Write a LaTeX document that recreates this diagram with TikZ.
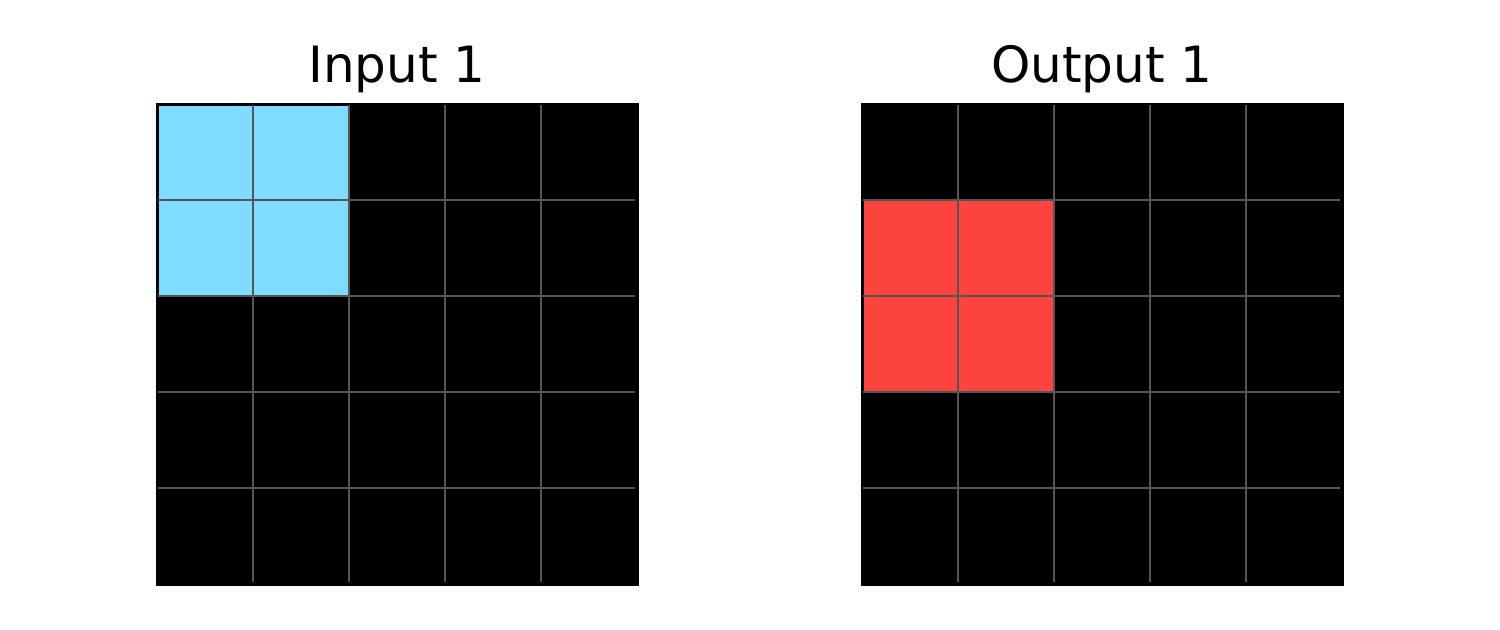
\documentclass[tikz,border=0pt]{standalone}
\usepackage{fontspec}
\setmainfont{DejaVu Sans}
\definecolor{arcblue}{HTML}{7FDBFF}
\definecolor{arcred}{HTML}{FC433D}
\definecolor{gridgray}{HTML}{555555}
\begin{document}
\begin{tikzpicture}[x=0.5pt,y=-0.5pt,
  title/.style={font=\fontsize{25}{30}\selectfont, anchor=base, inner sep=0pt},
  gridline/.style={draw=gridgray, line width=1pt},
  border/.style={draw=black, line width=1.2pt}]
\useasboundingbox (0,0) rectangle (1500,629);
% Input grid
\fill[black] (157,104) rectangle (638,585);
\fill[arcblue] (158.5,105.5) rectangle (349,296);
\foreach \i in {1,2,3,4} {
  \draw[gridline] (157+96*\i,105) -- (157+96*\i,582);
  \draw[gridline] (158,104+96*\i) -- (635,104+96*\i);
}
\draw[border] (157,104) rectangle (638,585);
\node[title] (tin) at (397,82) {Input 1};
% Output grid
\fill[black] (862,104) rectangle (1343,585);
\fill[arcred] (863.5,200) rectangle (1054,392);
\foreach \i in {1,2,3,4} {
  \draw[gridline] (862+96*\i,105) -- (862+96*\i,582);
  \draw[gridline] (863,104+96*\i) -- (1340,104+96*\i);
}
\draw[border] (862,104) rectangle (1343,585);
\node[title] (tout) at (1102,82) {Output 1};
\end{tikzpicture}
\end{document}
